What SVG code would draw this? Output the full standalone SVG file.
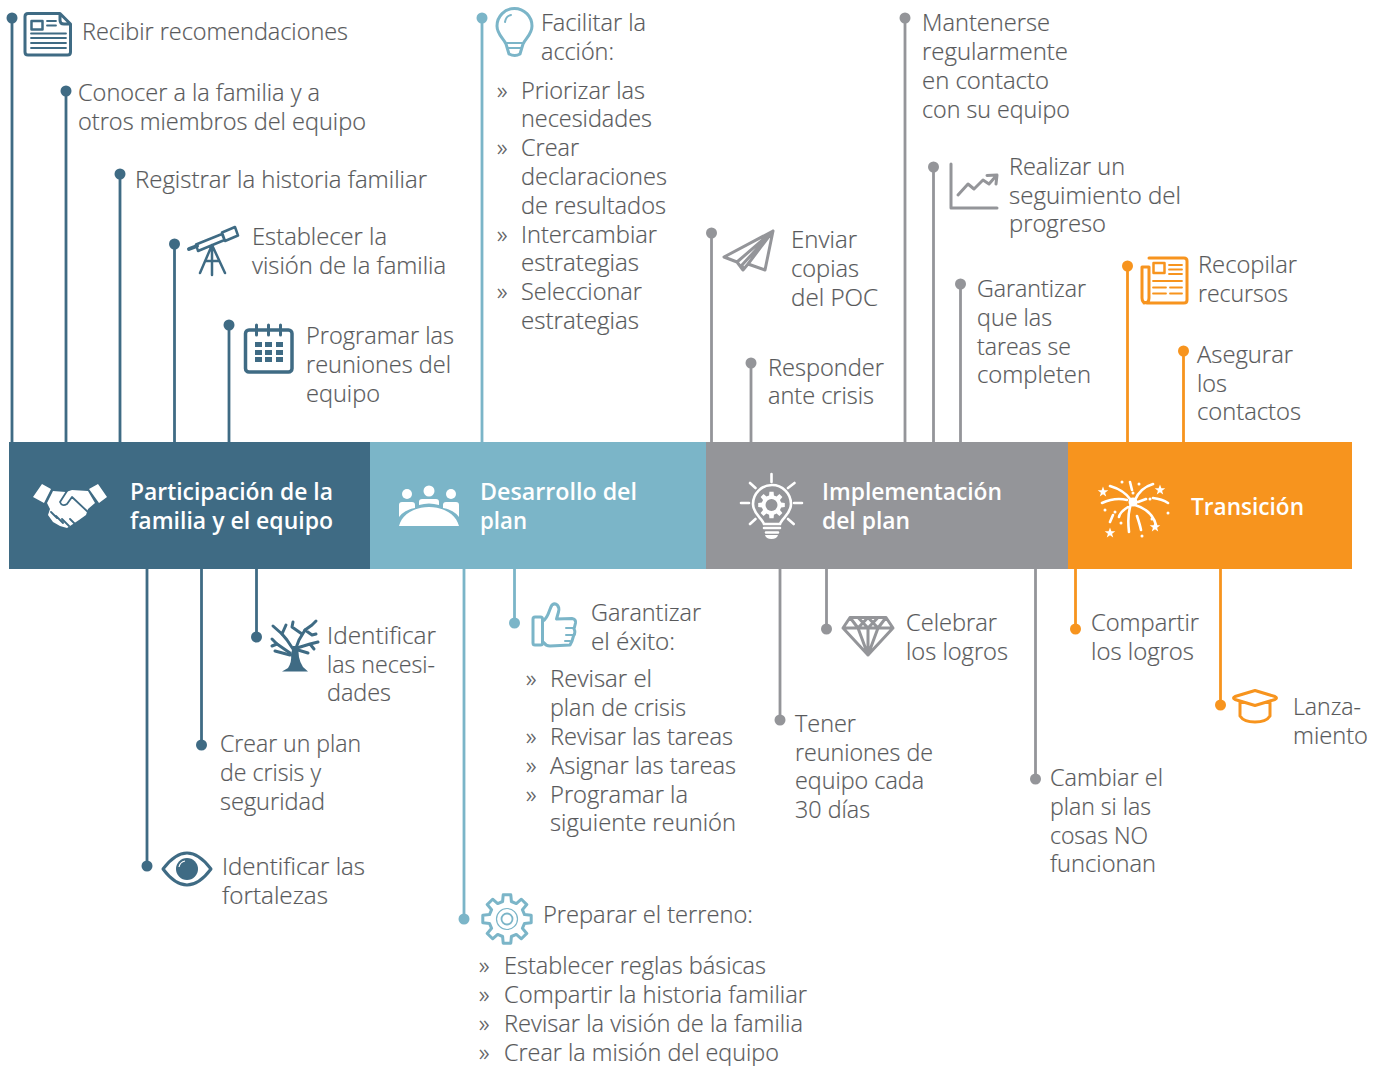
<svg xmlns="http://www.w3.org/2000/svg" xmlns:xlink="http://www.w3.org/1999/xlink" width="1385" height="1066" viewBox="0 0 1385 1066">
<style>
text{font-family:"Open Sans","Noto Sans","Liberation Sans",sans-serif;font-size:23.5px;font-weight:300;fill:#58595b;stroke:#58595b;stroke-width:.2}
.h{font-weight:600;fill:#fff;stroke:none}
.b{font-size:24px}
.cd line{stroke-width:2.8}
.d1{stroke:#3f6b84;fill:#3f6b84}.d2{stroke:#7bb5c8;fill:#7bb5c8}.d3{stroke:#949599;fill:#949599}.d4{stroke:#f7941e;fill:#f7941e}
.cd circle{stroke:none}
.i{fill:none;stroke-width:3;stroke-linecap:round;stroke-linejoin:round}
.i1{stroke:#3f6b84}.i2{stroke:#7bb5c8}.i3{stroke:#949599}.i4{stroke:#f7941e}
.w{fill:none;stroke:#fff;stroke-width:2.6;stroke-linecap:round}
.wf{fill:#fff}
</style>
<defs>
<path id="gear" d="M17.5-4.4L24.2-3.8L24.2 3.8L17.5 4.4L15.4 9.3L19.8 14.4L14.4 19.8L9.3 15.4L4.4 17.5L3.8 24.2L-3.8 24.2L-4.4 17.5L-9.3 15.4L-14.4 19.8L-19.8 14.4L-15.4 9.3L-17.5 4.4L-24.2 3.8L-24.2-3.8L-17.5-4.4L-15.4-9.3L-19.8-14.4L-14.4-19.8L-9.3-15.4L-4.4-17.5L-3.8-24.2L3.8-24.2L4.4-17.5L9.3-15.4L14.4-19.8L19.8-14.4L15.4-9.3Z"/>
<polygon id="star" points="0,-5.5 1.4,-1.8 5.3,-1.7 2.1,.7 3.2,4.5 0,2.2 -3.2,4.5 -2.1,.7 -5.3,-1.7 -1.4,-1.8"/>
</defs>

<g id="phases">
<g id="fase-participacion"><rect x="9" y="442" width="361" height="127" fill="#3f6b84"/>
<path class="wf" d="M33 497L42 484L51 489L44 503ZM89 489L98 484L107 497L99 503ZM47 503L53 491L66 492L72 490L88 491L95 503L88 509L86 515L79 520L73 524L67 528L60 526L53 522L48 515L50 509Z"/>
<path d="M67 491L60 502Q62 507 67 504L72 497L89 513M51 512L57 518M56 516L63 523M62 519L69 526M70 519L75 524" fill="none" stroke="#3f6b84" stroke-width="1.800" stroke-linecap="round" stroke-linejoin="round"/>
<text class="h" x="130" y="500" textLength="203" lengthAdjust="spacingAndGlyphs">Participación de la</text>
<text class="h" x="130" y="529" textLength="203" lengthAdjust="spacingAndGlyphs">familia y el equipo</text></g>
<g id="fase-desarrollo"><rect x="370" y="442" width="336" height="127" fill="#7bb5c8"/>
<g class="wf"><circle cx="407" cy="494" r="5"/><circle cx="429" cy="491" r="5.500"/><circle cx="451" cy="494" r="5"/>
<path d="M399 517V505q0-3 3-3H412q3 0 3 3V508Q404 510 399 517ZM459 517V505q0-3-3-3H446q-3 0-3 3V508Q454 510 459 517ZM419 505v-3q0-3 3-3h14q3 0 3 3v3Q429 502 419 505ZM399 526C402 514 415 507 429 507C443 507 456 514 459 526Z"/></g>
<text class="h" x="480" y="500" textLength="157" lengthAdjust="spacingAndGlyphs">Desarrollo del</text>
<text class="h" x="480" y="529" textLength="47" lengthAdjust="spacingAndGlyphs">plan</text></g>
<g id="fase-implementacion"><rect x="706" y="442" width="362" height="127" fill="#949599"/>
<path class="w" d="M771.500 474V482M741 503H749M794 503H802M750 483L755.500 488M794.500 483L788 488M750 524L755.500 519M793.700 524L788 519M764 528H780M766 532.500H778"/>
<path class="w" d="M764 524C762 518 753 514 753 504A18.700 18.700 0 0 1 791 504C791 514 782 518 780 524Z"/>
<use href="#gear" transform="translate(771.500 505) scale(.55)" fill="#fff"/><circle cx="771.500" cy="505" r="6" fill="#949599"/>
<path class="wf" d="M765 535H778Q777 539 771.500 539Q766 539 765 535Z"/>
<text class="h" x="822" y="500" textLength="180" lengthAdjust="spacingAndGlyphs">Implementación</text>
<text class="h" x="822" y="529" textLength="88" lengthAdjust="spacingAndGlyphs">del plan</text></g>
<g id="fase-transicion"><rect x="1068" y="442" width="284" height="127" fill="#f7941e"/>
<path class="w" d="M1110 486Q1124 490 1131 500M1102 503Q1115 497 1127 500M1153 484Q1140 488 1135 500M1153 498Q1162 499 1168 503M1138 502L1146 499M1131 504Q1127 515 1129 532M1137 516Q1140 525 1141 530M1135 505Q1152 510 1156 525M1128 507Q1120 512 1119 517M1110 522L1113 515M1130 482L1132 490"/>
<circle class="wf" cx="1133" cy="502" r="4.500"/>
<g class="wf"><circle cx="1122" cy="482" r="1.500"/><circle cx="1139" cy="484" r="1.500"/><circle cx="1105" cy="510" r="1.500"/><circle cx="1115" cy="512" r="1.500"/><circle cx="1121" cy="523" r="1.500"/><circle cx="1133" cy="493" r="1.500"/><circle cx="1150" cy="499" r="1.500"/><circle cx="1152" cy="519" r="1.500"/><circle cx="1168" cy="513" r="1.500"/><circle cx="1142" cy="536" r="1.500"/>
<use href="#star" x="1103" y="492"/><use href="#star" x="1160" y="490"/><use href="#star" x="1110" y="533"/><use href="#star" x="1155" y="527"/></g>
<text class="h" x="1191" y="515" textLength="113" lengthAdjust="spacingAndGlyphs">Transición</text></g>
</g>

<g id="connectors" class="cd">
<g class="d1"><line x1="12" y1="18" x2="12" y2="442"/><circle cx="12" cy="18" r="5.500"/>
<line x1="66" y1="91" x2="66" y2="442"/><circle cx="66" cy="91" r="5.500"/>
<line x1="120" y1="174" x2="120" y2="442"/><circle cx="120" cy="174" r="5.500"/>
<line x1="174.500" y1="244" x2="174.500" y2="442"/><circle cx="174.500" cy="244" r="5.500"/>
<line x1="229" y1="325" x2="229" y2="442"/><circle cx="229" cy="325" r="5.500"/>
<line x1="147" y1="569" x2="147" y2="866"/><circle cx="147" cy="866" r="5.500"/>
<line x1="201.500" y1="569" x2="201.500" y2="745"/><circle cx="201.500" cy="745" r="5.500"/>
<line x1="256.500" y1="569" x2="256.500" y2="637"/><circle cx="256.500" cy="637" r="5.500"/></g>
<g class="d2"><line x1="482" y1="18" x2="482" y2="442"/><circle cx="482" cy="18" r="5.500"/>
<line x1="464" y1="569" x2="464" y2="919"/><circle cx="464" cy="919" r="5.500"/>
<line x1="514.500" y1="569" x2="514.500" y2="623"/><circle cx="514.500" cy="623" r="5.500"/></g>
<g class="d3"><line x1="711.500" y1="233" x2="711.500" y2="442"/><circle cx="711.500" cy="233" r="5.500"/>
<line x1="751" y1="363" x2="751" y2="442"/><circle cx="751" cy="363" r="5.500"/>
<line x1="905" y1="18" x2="905" y2="442"/><circle cx="905" cy="18" r="5.500"/>
<line x1="933.500" y1="167" x2="933.500" y2="442"/><circle cx="933.500" cy="167" r="5.500"/>
<line x1="960.500" y1="284" x2="960.500" y2="442"/><circle cx="960.500" cy="284" r="5.500"/>
<line x1="780" y1="569" x2="780" y2="720"/><circle cx="780" cy="720" r="5.500"/>
<line x1="826.500" y1="569" x2="826.500" y2="629"/><circle cx="826.500" cy="629" r="5.500"/>
<line x1="1035.500" y1="569" x2="1035.500" y2="779"/><circle cx="1035.500" cy="779" r="5.500"/></g>
<g class="d4"><line x1="1127.500" y1="266" x2="1127.500" y2="442"/><circle cx="1127.500" cy="266" r="5.500"/>
<line x1="1183.500" y1="351" x2="1183.500" y2="442"/><circle cx="1183.500" cy="351" r="5.500"/>
<line x1="1075.500" y1="569" x2="1075.500" y2="629"/><circle cx="1075.500" cy="629" r="5.500"/>
<line x1="1220.500" y1="569" x2="1220.500" y2="705"/><circle cx="1220.500" cy="705" r="5.500"/></g>
</g>

<g id="n-recibir"><g class="i i1"><path d="M28 13.500H60L70.500 24V52q0 3-3 3H28q-3 0-3-3V16.500q0-3 3-3ZM60 14V20q0 4 4 4H70"/><rect x="31.500" y="21" width="11" height="8.500" stroke-width="2.500"/><path stroke-width="1.800" d="M47 21H56M47 25.500H56M31 33.500H66M31 38H66M31 43H66M31 48H66"/></g>
<text x="82" y="40" textLength="266" lengthAdjust="spacingAndGlyphs">Recibir recomendaciones</text></g>
<g id="n-conocer"><text x="78" y="101" textLength="242" lengthAdjust="spacingAndGlyphs">Conocer a la familia y a</text><text x="78" y="130" textLength="288" lengthAdjust="spacingAndGlyphs">otros miembros del equipo</text></g>
<g id="n-registrar"><text x="135" y="188" textLength="292" lengthAdjust="spacingAndGlyphs">Registrar la historia familiar</text></g>
<g id="n-vision"><g class="i i1"><path stroke-width="4" d="M189 249L197 246"/><path stroke-width="2.500" d="M196 244.500L222 234L224.500 240L198 251ZM222 232.500L235 227L238 235.500L225 241ZM212 245L200 273M212 245V275M212 245L225 273M206 261H219"/></g>
<text x="252" y="245" textLength="135" lengthAdjust="spacingAndGlyphs">Establecer la</text><text x="252" y="274" textLength="194" lengthAdjust="spacingAndGlyphs">visión de la familia</text></g>
<g id="n-reuniones"><g class="i i1"><rect x="245.500" y="330" width="46.500" height="42" rx="3.500" stroke-width="3.500"/><path d="M256.500 325V335M268.500 325V335M280.500 325V335"/></g>
<g fill="#3f6b84"><rect x="255" y="342" width="7" height="5"/><rect x="265" y="342" width="7" height="5"/><rect x="276" y="342" width="7" height="5"/><rect x="255" y="350" width="7" height="5"/><rect x="265" y="350" width="7" height="5"/><rect x="276" y="350" width="7" height="5"/><rect x="255" y="357" width="7" height="5"/><rect x="265" y="357" width="7" height="5"/><rect x="276" y="357" width="7" height="5"/></g>
<text x="306" y="344" textLength="148" lengthAdjust="spacingAndGlyphs">Programar las</text><text x="306" y="373" textLength="145" lengthAdjust="spacingAndGlyphs">reuniones del</text><text x="306" y="402" textLength="74" lengthAdjust="spacingAndGlyphs">equipo</text></g>

<g id="n-facilitar"><g class="i i2"><path d="M506 44C503 38 497 34 497 26A17.500 17.500 0 0 1 532 26C532 34 526 38 523 44L520 54Q515 57 509 54Z"/><path stroke-width="2" d="M507 43H522M508 48H521M505 22Q506 16 511 15"/></g>
<text x="541" y="31" textLength="105" lengthAdjust="spacingAndGlyphs">Facilitar la</text><text x="541" y="60" textLength="73" lengthAdjust="spacingAndGlyphs">acción:</text>
<text class="b" x="497" y="99">»</text><text class="b" x="497" y="156">»</text><text class="b" x="497" y="243">»</text><text class="b" x="497" y="300">»</text>
<text x="521" y="99" textLength="124" lengthAdjust="spacingAndGlyphs">Priorizar las</text><text x="521" y="127" textLength="131" lengthAdjust="spacingAndGlyphs">necesidades</text><text x="521" y="156" textLength="58" lengthAdjust="spacingAndGlyphs">Crear</text><text x="521" y="185" textLength="146" lengthAdjust="spacingAndGlyphs">declaraciones</text><text x="521" y="214" textLength="145" lengthAdjust="spacingAndGlyphs">de resultados</text><text x="521" y="243" textLength="136" lengthAdjust="spacingAndGlyphs">Intercambiar</text><text x="521" y="271" textLength="118" lengthAdjust="spacingAndGlyphs">estrategias</text><text x="521" y="300" textLength="121" lengthAdjust="spacingAndGlyphs">Seleccionar</text><text x="521" y="329" textLength="118" lengthAdjust="spacingAndGlyphs">estrategias</text></g>

<g id="n-enviar"><path class="i i3" stroke-width="2.500" d="M773 231L724 257L737 262L743 270L748 264L765 270ZM737 262L773 231M748 264L773 231M743 270L742 265L765 240"/>
<text x="791" y="248" textLength="66" lengthAdjust="spacingAndGlyphs">Enviar</text><text x="791" y="277" textLength="68" lengthAdjust="spacingAndGlyphs">copias</text><text x="791" y="306" textLength="87" lengthAdjust="spacingAndGlyphs">del POC</text></g>
<g id="n-responder"><text x="768" y="376" textLength="116" lengthAdjust="spacingAndGlyphs">Responder</text><text x="768" y="404" textLength="106" lengthAdjust="spacingAndGlyphs">ante crisis</text></g>
<g id="n-mantenerse"><text x="922" y="31" textLength="128" lengthAdjust="spacingAndGlyphs">Mantenerse</text><text x="922" y="60" textLength="146" lengthAdjust="spacingAndGlyphs">regularmente</text><text x="922" y="89" textLength="127" lengthAdjust="spacingAndGlyphs">en contacto</text><text x="922" y="118" textLength="148" lengthAdjust="spacingAndGlyphs">con su equipo</text></g>
<g id="n-seguimiento"><path class="i i3" d="M951 164V208H997M958 195L968 184L974 189L983 180L989 184L996 176M987 175.500L997 175L996 184" stroke-width="2.800"/>
<text x="1009" y="175" textLength="116" lengthAdjust="spacingAndGlyphs">Realizar un</text><text x="1009" y="204" textLength="172" lengthAdjust="spacingAndGlyphs">seguimiento del</text><text x="1009" y="232" textLength="97" lengthAdjust="spacingAndGlyphs">progreso</text></g>
<g id="n-garantizar"><text x="977" y="297" textLength="109" lengthAdjust="spacingAndGlyphs">Garantizar</text><text x="977" y="326" textLength="75" lengthAdjust="spacingAndGlyphs">que las</text><text x="977" y="355" textLength="94" lengthAdjust="spacingAndGlyphs">tareas se</text><text x="977" y="383" textLength="114" lengthAdjust="spacingAndGlyphs">completen</text></g>
<g id="n-recopilar"><g class="i i4"><path d="M1149 258H1184q3 0 3 3V300q0 3-3 3H1147q-5 0-5-5V267H1149V298q0 5-5 5"/><rect x="1153.500" y="263" width="11" height="10" stroke-width="2.500"/><path stroke-width="1.800" d="M1169 265H1182M1169 269.500H1182M1169 274H1182M1153 281H1182M1153 287.500H1166M1170 287.500H1182M1153 293.500H1166M1170 293.500H1182"/></g>
<text x="1198" y="273" textLength="99" lengthAdjust="spacingAndGlyphs">Recopilar</text><text x="1198" y="302" textLength="90" lengthAdjust="spacingAndGlyphs">recursos</text></g>
<g id="n-asegurar"><text x="1197" y="363" textLength="96" lengthAdjust="spacingAndGlyphs">Asegurar</text><text x="1197" y="392" textLength="30" lengthAdjust="spacingAndGlyphs">los</text><text x="1197" y="420" textLength="104" lengthAdjust="spacingAndGlyphs">contactos</text></g>

<g id="n-necesidades"><path d="M282 671.500L288 668Q292 662 291 654L293 646L299 646Q297 658 303 667L308 671.500Z" fill="#3f6b84"/>
<path class="i i1" stroke-width="2.800" d="M296 648L299 640L305 630M293 649L287 640L282 634M290 653L277 644"/>
<path class="i i1" stroke-width="1.400" d="M305 630L312 625L316 621M305 630L312 635L316 634M302 634L292 627L293 622M282 634L273 626M282 634L286 625M277 644L272 639M277 644L272 646M290 655L275 651M297 648L310 644L318 642M310 644L314 649M298 650L308 653"/>
<text x="327" y="644" textLength="109" lengthAdjust="spacingAndGlyphs">Identificar</text><text x="327" y="673" textLength="108" lengthAdjust="spacingAndGlyphs">las necesi-</text><text x="327" y="701" textLength="64" lengthAdjust="spacingAndGlyphs">dades</text></g>
<g id="n-crisis"><text x="220" y="752" textLength="141" lengthAdjust="spacingAndGlyphs">Crear un plan</text><text x="220" y="781" textLength="101" lengthAdjust="spacingAndGlyphs">de crisis y</text><text x="220" y="810" textLength="105" lengthAdjust="spacingAndGlyphs">seguridad</text></g>
<g id="n-fortalezas"><path class="i i1" d="M163 869Q187 837 211 869Q187 901 163 869Z"/><circle cx="187" cy="869" r="11" fill="#3f6b84"/><path d="M179 867Q180 862 185 861" fill="none" stroke="#fff" stroke-width="1.200"/>
<text x="222" y="875" textLength="143" lengthAdjust="spacingAndGlyphs">Identificar las</text><text x="222" y="904" textLength="106" lengthAdjust="spacingAndGlyphs">fortalezas</text></g>

<g id="n-exito"><g class="i i2"><rect x="533" y="617" width="9.500" height="28" rx="2"/><path d="M543 621C549 617 549 609 552 605C556 602 560 606 558.500 612L556.500 619L572 618.500Q576 619 575.500 623L574 629Q576 632 573.500 636L572 641L570 645L550 646Q546 646 543 642"/><path stroke-width="2" d="M566 628H574M566 635H573M565 641H570"/></g>
<text x="591" y="621" textLength="110" lengthAdjust="spacingAndGlyphs">Garantizar</text><text x="591" y="650" textLength="84" lengthAdjust="spacingAndGlyphs">el éxito:</text>
<text class="b" x="526" y="687">»</text><text class="b" x="526" y="745">»</text><text class="b" x="526" y="774">»</text><text class="b" x="526" y="803">»</text>
<text x="550" y="687" textLength="102" lengthAdjust="spacingAndGlyphs">Revisar el</text><text x="550" y="716" textLength="136" lengthAdjust="spacingAndGlyphs">plan de crisis</text><text x="550" y="745" textLength="183" lengthAdjust="spacingAndGlyphs">Revisar las tareas</text><text x="550" y="774" textLength="186" lengthAdjust="spacingAndGlyphs">Asignar las tareas</text><text x="550" y="803" textLength="138" lengthAdjust="spacingAndGlyphs">Programar la</text><text x="550" y="831" textLength="186" lengthAdjust="spacingAndGlyphs">siguiente reunión</text></g>
<g id="n-terreno"><use href="#gear" transform="translate(507 919)" fill="none" stroke="#7bb5c8" stroke-width="3" stroke-linejoin="round"/><circle cx="507" cy="919" r="10.500" fill="none" stroke="#7bb5c8" stroke-width="1.200"/><circle cx="507" cy="919" r="5.500" fill="none" stroke="#7bb5c8" stroke-width="1.800"/>
<text x="543" y="923" textLength="210" lengthAdjust="spacingAndGlyphs">Preparar el terreno:</text>
<text class="b" x="479" y="974">»</text><text class="b" x="479" y="1003">»</text><text class="b" x="479" y="1032">»</text><text class="b" x="479" y="1061">»</text>
<text x="504" y="974" textLength="262" lengthAdjust="spacingAndGlyphs">Establecer reglas básicas</text><text x="504" y="1003" textLength="303" lengthAdjust="spacingAndGlyphs">Compartir la historia familiar</text><text x="504" y="1032" textLength="299" lengthAdjust="spacingAndGlyphs">Revisar la visión de la familia</text><text x="504" y="1061" textLength="275" lengthAdjust="spacingAndGlyphs">Crear la misión del equipo</text></g>

<g id="n-tener"><text x="795" y="732" textLength="61" lengthAdjust="spacingAndGlyphs">Tener</text><text x="795" y="761" textLength="138" lengthAdjust="spacingAndGlyphs">reuniones de</text><text x="795" y="789" textLength="129" lengthAdjust="spacingAndGlyphs">equipo cada</text><text x="795" y="818" textLength="75" lengthAdjust="spacingAndGlyphs">30 días</text></g>
<g id="n-celebrar"><path class="i i3" stroke-width="2.200" d="M850 617.500H886L893 628L868 655L843 628ZM843 628H893M850 617.500L858 628L868 617.500L878 628L886 617.500M858 617.500L868 628L878 617.500M858 628L868 655M868 628V655M878 628L868 655"/>
<text x="906" y="631" textLength="91" lengthAdjust="spacingAndGlyphs">Celebrar</text><text x="906" y="660" textLength="102" lengthAdjust="spacingAndGlyphs">los logros</text></g>
<g id="n-cambiar"><text x="1050" y="786" textLength="113" lengthAdjust="spacingAndGlyphs">Cambiar el</text><text x="1050" y="815" textLength="101" lengthAdjust="spacingAndGlyphs">plan si las</text><text x="1050" y="844" textLength="98" lengthAdjust="spacingAndGlyphs">cosas NO</text><text x="1050" y="872" textLength="106" lengthAdjust="spacingAndGlyphs">funcionan</text></g>
<g id="n-compartir"><text x="1091" y="631" textLength="108" lengthAdjust="spacingAndGlyphs">Compartir</text><text x="1091" y="660" textLength="103" lengthAdjust="spacingAndGlyphs">los logros</text></g>
<g id="n-lanzamiento"><path class="i i4" d="M1255 690.500L1275 696.500Q1278 698 1275 699.500L1255 705.500L1235 699.500Q1232 698 1235 696.500ZM1240 702V716C1245 724 1265 724 1270 716V702"/>
<text x="1293" y="715" textLength="68" lengthAdjust="spacingAndGlyphs">Lanza-</text><text x="1293" y="744" textLength="75" lengthAdjust="spacingAndGlyphs">miento</text></g>
</svg>
